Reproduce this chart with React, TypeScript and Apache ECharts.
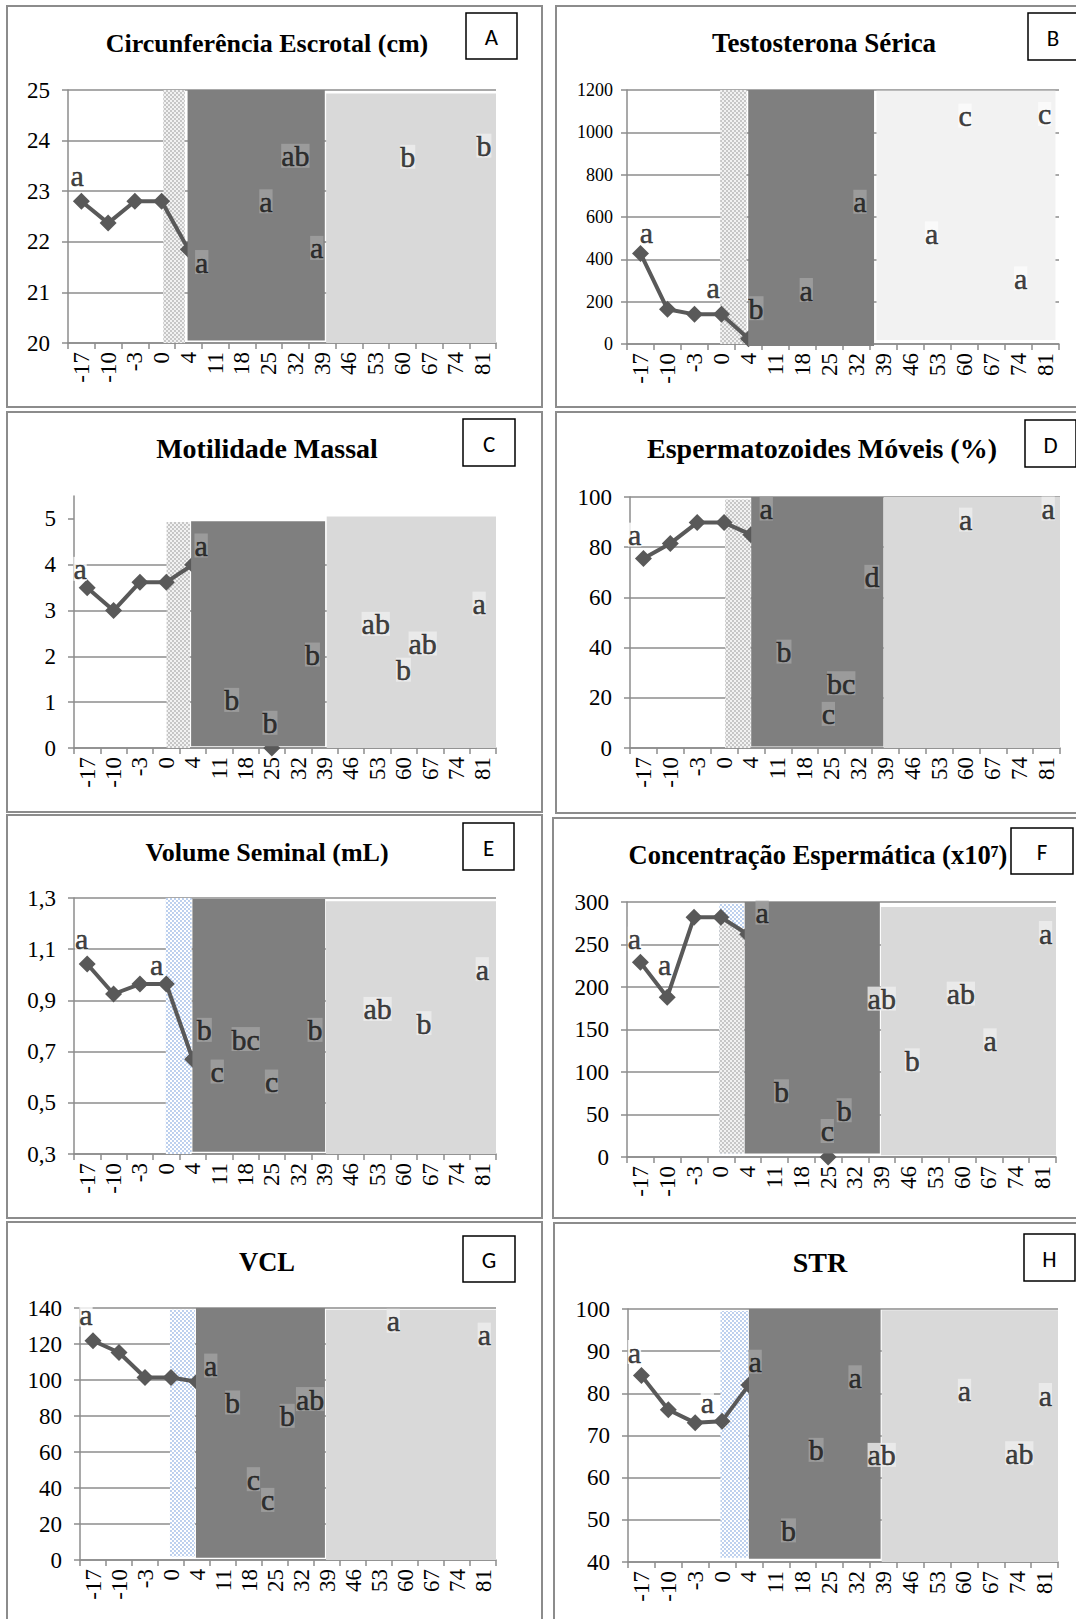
import React, { useEffect, useRef } from 'react';
import * as echarts from 'echarts';

// ---------- data ----------
const xDays = ['-17', '-10', '-3', '0', '4', '11', '18', '25', '32', '39', '46', '53', '60', '67', '74', '81'];

const N = null;
const circValues = [22.8, 22.37, 22.8, 22.8, 21.85, N, N, N, N, N, N, N, N, N, N, N];
const testoValues = [428, 164, 140, 140, 25, N, N, N, N, N, N, N, N, N, N, N];
const motilValues = [3.5, 3.0, 3.62, 3.62, 4.0, N, N, 0, N, N, N, N, N, N, N, N];
const moveisValues = [75.5, 81.5, 89.8, 89.8, 85, N, N, N, N, N, N, N, N, N, N, N];
const volumeValues = [1.042, 0.925, 0.964, 0.964, 0.67, N, N, N, N, N, N, N, N, N, N, N];
const concValues = [229, 188, 282, 282, 262, N, N, 0, N, N, N, N, N, N, N, N];
const vclValues = [121.8, 115.3, 101.4, 101.4, 99, N, N, N, N, N, N, N, N, N, N, N];
const strValues = [84.2, 76.1, 73.0, 73.4, 82, N, N, N, N, N, N, N, N, N, N, N];

// significance letters: [position along the day axis (in day slots), value, letter]
const circLetters: [number, number, string][] = [
  [0.34, 23.32, 'a'], [5.0, 21.6, 'a'], [7.4, 22.8, 'a'], [8.5, 23.7, 'ab'], [9.3, 21.88, 'a'], [12.7, 23.68, 'b'], [15.55, 23.9, 'b'],
];
const testoLetters: [number, number, string][] = [
  [0.72, 528, 'a'], [3.19, 268, 'a'], [4.78, 169, 'b'], [6.64, 255, 'a'], [8.63, 672, 'a'], [11.28, 523, 'a'], [12.52, 1079, 'c'], [14.58, 310, 'a'], [15.47, 1087, 'c'],
];
const motilLetters: [number, number, string][] = [
  [0.23, 3.91, 'a'], [4.82, 4.42, 'a'], [5.98, 1.05, 'b'], [7.43, 0.55, 'b'], [9.04, 2.04, 'b'], [11.44, 2.71, 'ab'], [12.49, 1.71, 'b'], [13.22, 2.28, 'ab'], [15.36, 3.15, 'a'],
];
const moveisLetters: [number, number, string][] = [
  [0.17, 85, 'a'], [5.07, 95.4, 'a'], [5.73, 38.4, 'b'], [7.86, 25.8, 'bc'], [7.38, 13.6, 'c'], [9.0, 68.2, 'd'], [12.49, 91, 'a'], [15.56, 95.4, 'a'],
];
const volumeLetters: [number, number, string][] = [
  [0.29, 1.14, 'a'], [3.13, 1.04, 'a'], [4.94, 0.785, 'b'], [5.43, 0.622, 'c'], [6.51, 0.749, 'bc'], [7.49, 0.583, 'c'], [9.14, 0.785, 'b'], [11.51, 0.867, 'ab'], [13.27, 0.811, 'b'], [15.48, 1.022, 'a'],
];
const concLetters: [number, number, string][] = [
  [0.28, 257, 'a'], [1.4, 226.7, 'a'], [5.04, 287.5, 'a'], [5.76, 77.3, 'b'], [7.47, 30.6, 'c'], [8.1, 55, 'b'], [9.5, 186.3, 'ab'], [10.64, 113.8, 'b'], [12.45, 192.2, 'ab'], [13.54, 137.3, 'a'], [15.61, 263.5, 'a'],
];
const vclLetters: [number, number, string][] = [
  [0.23, 136.3, 'a'], [5.03, 108, 'a'], [5.87, 87.5, 'b'], [6.67, 44.9, 'c'], [7.22, 33.4, 'c'], [7.97, 80.1, 'b'], [8.85, 89.4, 'ab'], [12.05, 132.9, 'a'], [15.55, 125.2, 'a'],
];
const strLetters: [number, number, string][] = [
  [0.24, 89.8, 'a'], [2.95, 77.9, 'a'], [4.73, 87.5, 'a'], [5.97, 47.5, 'b'], [7.0, 66.6, 'b'], [8.45, 83.8, 'a'], [9.44, 65.4, 'ab'], [12.52, 80.6, 'a'], [14.56, 65.8, 'ab'], [15.53, 79.6, 'a'],
];

// ---------- styling / layout ----------
const SERIF = 'Liberation Serif, Times New Roman, serif';
const SANS = 'Carlito, Calibri, Liberation Sans, Arial, sans-serif';
const AX = '#8c8c8c';
const LINE = '#595959';
const DARK = '#7f7f7f';
const LIGHT = '#d9d9d9';

function dots(bg: string, dot: string) {
  const svg = `<svg xmlns="http://www.w3.org/2000/svg" width="4" height="4"><rect width="4" height="4" fill="${bg}"/><circle cx="1" cy="1" r="0.9" fill="${dot}"/><circle cx="3" cy="3" r="0.9" fill="${dot}"/></svg>`;
  return {
    image: 'data:image/svg+xml;charset=utf-8,' + encodeURIComponent(svg),
    repeat: 'repeat',
    imageWidth: 4,
    imageHeight: 4,
  };
}
const GREY_DOTS = dots('#f2f2f2', '#b3b3b3');
const BLUE_DOTS = dots('#ffffff', '#9fbbe6');

type Span = [number, number, number, number]; // x0, x1 (slots), yLow, yHigh

interface Panel {
  frame: [number, number, number, number];
  title: string;
  titlePos: [number, number];
  titleSize: number;
  box: [number, number, number, number];
  boxLetter: string;
  grid: [number, number, number, number];
  y: [number, number, number];
  yFont: number;
  fmt?: (v: number) => string;
  values: (number | null)[];
  letters: [number, number, string][];
  stipple: Span;
  stippleFill: any;
  stippleTopBlue?: boolean;
  dark: Span;
  light: Span;
  lightColor: string;
}

const comma = (v: number) => v.toFixed(1).replace('.', ',');

const panels: Panel[] = [
  {
    frame: [7, 6, 535, 401], title: 'Circunferência Escrotal (cm)', titlePos: [267, 43], titleSize: 26, box: [466, 13, 51, 46], boxLetter: 'A',
    grid: [68, 90, 428, 253], y: [20, 25, 1], yFont: 23, values: circValues, letters: circLetters,
    stipple: [3.56, 4.37, 20, 25], stippleFill: GREY_DOTS, dark: [4.47, 9.6, 20.05, 25], light: [9.65, 16, 20, 24.93], lightColor: LIGHT,
  },
  {
    frame: [556, 6, 540, 401], title: 'Testosterona Sérica', titlePos: [824, 43], titleSize: 27, box: [1028, 13, 51, 47], boxLetter: 'B',
    grid: [627, 90, 432, 254], y: [0, 1200, 200], yFont: 18, values: testoValues, letters: testoLetters,
    stipple: [3.45, 4.43, 0, 1200], stippleFill: GREY_DOTS, dark: [4.49, 9.15, -10, 1200], light: [9.24, 15.87, 19, 1197], lightColor: '#f2f2f2',
  },
  {
    frame: [7, 412, 535, 400], title: 'Motilidade Massal', titlePos: [267, 448], titleSize: 28, box: [463, 419, 52, 47], boxLetter: 'C',
    grid: [74, 496, 422, 252], y: [0, 5.5, 1], yFont: 23, values: motilValues, letters: motilLetters,
    stipple: [3.51, 4.4, 0, 4.93], stippleFill: GREY_DOTS, dark: [4.44, 9.52, 0.04, 4.95], light: [9.58, 16, 0, 5.05], lightColor: LIGHT,
  },
  {
    frame: [556, 412, 540, 401], title: 'Espermatozoides Móveis (%)', titlePos: [822, 448], titleSize: 28, box: [1025, 420, 51, 47], boxLetter: 'D',
    grid: [630, 497, 430, 251], y: [0, 100, 20], yFont: 23, values: moveisValues, letters: moveisLetters,
    stipple: [3.54, 4.49, 0, 99], stippleFill: GREY_DOTS, dark: [4.51, 9.43, 0.6, 100], light: [9.44, 16, 0, 100], lightColor: LIGHT,
  },
  {
    frame: [7, 815, 535, 403], title: 'Volume Seminal (mL)', titlePos: [267, 852], titleSize: 26, box: [463, 823, 51, 47], boxLetter: 'E',
    grid: [74, 898, 422, 256], y: [0.3, 1.3, 0.2], yFont: 23, fmt: comma, values: volumeValues, letters: volumeLetters,
    stipple: [3.48, 4.46, 0.3, 1.3], stippleFill: BLUE_DOTS, dark: [4.49, 9.52, 0.309, 1.296], light: [9.55, 16, 0.3, 1.287], lightColor: LIGHT,
  },
  {
    frame: [553, 818, 540, 400], title: 'Concentração Espermática (x10⁷)', titlePos: [818, 855], titleSize: 26.5, box: [1011, 828, 62, 46], boxLetter: 'F',
    grid: [627, 902, 429, 255], y: [0, 300, 50], yFont: 23, values: concValues, letters: concLetters,
    stipple: [3.44, 4.37, 4, 298], stippleFill: GREY_DOTS, stippleTopBlue: true, dark: [4.39, 9.43, 4, 300], light: [9.47, 16, 2, 294], lightColor: LIGHT,
  },
  {
    frame: [7, 1222, 535, 420], title: 'VCL', titlePos: [267, 1262], titleSize: 26.5, box: [463, 1236, 52, 46], boxLetter: 'G',
    grid: [80, 1308, 416, 252], y: [0, 140, 20], yFont: 23, values: vclValues, letters: vclLetters,
    stipple: [3.46, 4.42, 2, 139], stippleFill: BLUE_DOTS, dark: [4.46, 9.42, 1.3, 140], light: [9.46, 16, 0, 139], lightColor: LIGHT,
  },
  {
    frame: [554, 1223, 540, 420], title: 'STR', titlePos: [820, 1262], titleSize: 28, box: [1024, 1234, 51, 47], boxLetter: 'H',
    grid: [628, 1309, 430, 253], y: [40, 100, 10], yFont: 23, values: strValues, letters: strLetters,
    stipple: [3.44, 4.48, 41, 99.5], stippleFill: BLUE_DOTS, dark: [4.5, 9.4, 40.8, 100], light: [9.44, 16, 40, 99.7], lightColor: LIGHT,
  },
];

function letterBg(p: Panel, x: number) {
  if (x >= p.dark[0] && x <= p.dark[1]) return '#a3a3a3';
  if (x >= p.light[0]) return p.lightColor === LIGHT ? '#eeeeee' : '#fbfbfb';
  return '#ffffff';
}

function rectSeries(i: number, spans: { s: Span; fill: any }[], z: number) {
  return {
    type: 'custom',
    xAxisIndex: 2 * i + 1,
    yAxisIndex: i,
    z,
    silent: true,
    clip: false,
    encode: { x: [0, 1], y: [2, 3] },
    data: spans.map((o) => o.s),
    renderItem: (params: any, api: any) => {
      const o = spans[params.dataIndex];
      const a = api.coord([o.s[0], o.s[3]]);
      const b = api.coord([o.s[1], o.s[2]]);
      return {
        type: 'rect',
        shape: { x: a[0], y: a[1], width: b[0] - a[0], height: b[1] - a[1] },
        style: { fill: o.fill },
      };
    },
  };
}

// grey stipple under the line segment between day 0 and day 4 (blue above it), as in panel F
function splitStippleSeries(i: number, p: Panel) {
  const s = p.stipple;
  const v0 = p.values[3] as number;
  const v1 = p.values[4] as number;
  const along = (x: number) => v0 + ((x - 3.5) / 1.0) * (v1 - v0);
  return {
    type: 'custom',
    xAxisIndex: 2 * i + 1,
    yAxisIndex: i,
    z: 1.5,
    silent: true,
    clip: false,
    encode: { x: [0, 1], y: [2, 3] },
    data: [s],
    renderItem: (_params: any, api: any) => ({
      type: 'polygon',
      shape: {
        points: [
          api.coord([s[0], along(s[0])]),
          api.coord([s[1], along(s[1])]),
          api.coord([s[1], s[2]]),
          api.coord([s[0], s[2]]),
        ],
      },
      style: { fill: GREY_DOTS },
    }),
  };
}

function buildOption() {
  const grid: any[] = [];
  const xAxis: any[] = [];
  const yAxis: any[] = [];
  const series: any[] = [];
  const graphic: any[] = [];

  panels.forEach((p, i) => {
    grid.push({ left: p.grid[0], top: p.grid[1], width: p.grid[2], height: p.grid[3] });
    xAxis.push({
      type: 'category',
      gridIndex: i,
      data: xDays,
      boundaryGap: true,
      axisLine: { show: true, lineStyle: { color: AX, width: 1.5 } },
      axisTick: { show: true, length: 6, lineStyle: { color: AX, width: 1.5 } },
      axisLabel: { interval: 0, rotate: 90, margin: 9, fontFamily: SERIF, fontSize: 23, color: '#000' },
      splitLine: { show: false },
    });
    xAxis.push({ type: 'value', gridIndex: i, min: 0, max: 16, show: false });
    const ticks: number[] = [];
    for (let v = p.y[0]; v <= p.y[1] + 1e-9; v += p.y[2]) ticks.push(Math.round(v * 1000) / 1000);
    yAxis.push({
      type: 'value',
      gridIndex: i,
      min: p.y[0],
      max: p.y[1],
      interval: p.y[2],
      axisLine: { show: true, lineStyle: { color: AX, width: 1.5 } },
      axisTick: { show: true, length: 6, inside: false, lineStyle: { color: AX, width: 1.5 }, customValues: ticks },
      axisLabel: {
        fontFamily: SERIF,
        fontSize: p.yFont,
        color: '#000',
        margin: p.yFont < 20 ? 14 : 18,
        customValues: ticks,
        formatter: p.fmt ? (v: number) => p.fmt!(v) : (v: number) => String(v),
      },
      splitLine: { show: true, showMaxLine: ticks[ticks.length - 1] >= p.y[1] - 1e-9, lineStyle: { color: AX, width: 1.5 } },
    });

    if (p.stippleTopBlue) {
      series.push(rectSeries(i, [{ s: p.stipple, fill: BLUE_DOTS }], 1));
      series.push(splitStippleSeries(i, p));
    } else {
      series.push(rectSeries(i, [{ s: p.stipple, fill: p.stippleFill }], 1));
    }
    series.push({
      type: 'line',
      xAxisIndex: 2 * i,
      yAxisIndex: i,
      z: 2,
      silent: true,
      data: p.values,
      connectNulls: false,
      symbol: 'diamond',
      symbolSize: 17,
      showSymbol: true,
      showAllSymbol: true,
      lineStyle: { color: LINE, width: 4 },
      itemStyle: { color: LINE },
    });
    series.push(rectSeries(i, [{ s: p.dark, fill: DARK }, { s: p.light, fill: p.lightColor }], 3));
    series.push({
      type: 'scatter',
      xAxisIndex: 2 * i + 1,
      yAxisIndex: i,
      z: 5,
      silent: true,
      symbolSize: 1,
      itemStyle: { color: 'rgba(0,0,0,0)' },
      label: {
        show: true,
        position: 'inside',
        formatter: '{b}',
        fontFamily: SERIF,
        fontSize: 30,
        lineHeight: 24,
        color: '#111111',
        textBorderColor: '#111111',
        textBorderWidth: 0.5,
        padding: [0, 0, 0, 0],
      },
      data: p.letters.map(([x, y, t]) => ({ name: t, value: [x, y], label: { backgroundColor: letterBg(p, x) } })),
    });

    graphic.push({
      type: 'rect',
      silent: true,
      z: 50,
      shape: { x: p.frame[0], y: p.frame[1], width: p.frame[2], height: p.frame[3] },
      style: { fill: 'none', stroke: AX, lineWidth: 2 },
    });
    graphic.push({
      type: 'text',
      silent: true,
      z: 50,
      x: p.titlePos[0],
      y: p.titlePos[1],
      style: {
        text: p.title,
        fontFamily: SERIF,
        fontWeight: 'bold',
        fontSize: p.titleSize,
        fill: '#000',
        align: 'center',
        verticalAlign: 'middle',
      },
    });
    graphic.push({
      type: 'rect',
      silent: true,
      z: 50,
      shape: { x: p.box[0], y: p.box[1], width: p.box[2], height: p.box[3] },
      style: { fill: '#fff', stroke: '#000', lineWidth: 1.5 },
    });
    graphic.push({
      type: 'text',
      silent: true,
      z: 51,
      x: p.box[0] + Math.min(p.box[2], 1076 - p.box[0] + 2) / 2,
      y: p.box[1] + p.box[3] / 2 + 1,
      style: { text: p.boxLetter, fontFamily: SANS, fontSize: 23, fill: '#000', align: 'center', verticalAlign: 'middle' },
    });
  });

  return {
    animation: false,
    backgroundColor: '#ffffff',
    textStyle: { fontFamily: SERIF },
    grid,
    xAxis,
    yAxis,
    series,
    graphic,
  };
}

export default function App() {
  const ref = useRef<HTMLDivElement>(null);
  useEffect(() => {
    if (!ref.current) return;
    const chart = echarts.init(ref.current, undefined, { renderer: 'svg' });
    chart.setOption(buildOption() as any);
    return () => chart.dispose();
  }, []);
  return (
    <div
      ref={ref}
      style={{ position: 'absolute', left: 0, top: 0, width: 1076, height: 1619, background: '#ffffff', overflow: 'hidden' }}
    />
  );
}
